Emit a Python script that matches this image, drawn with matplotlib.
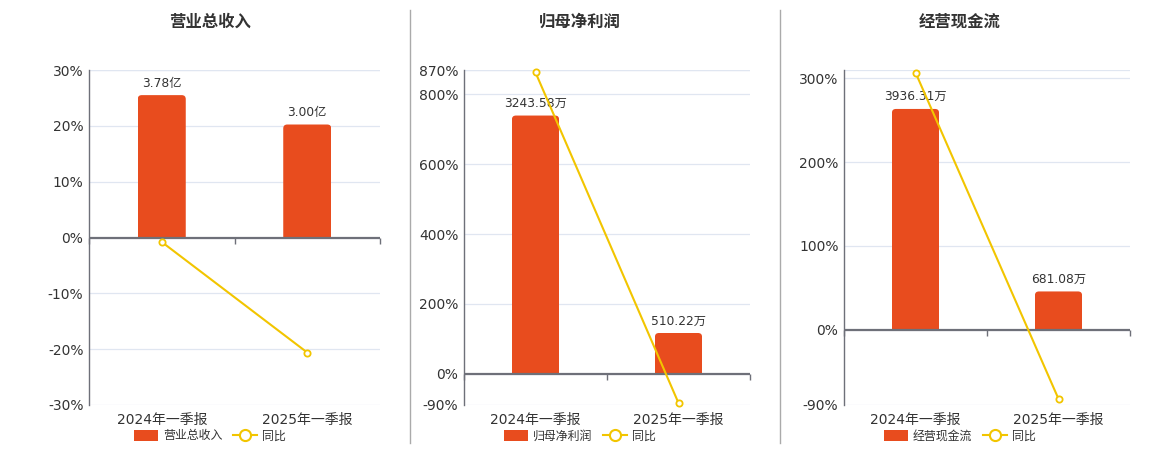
import matplotlib.pyplot as plt
from matplotlib.lines import Line2D
from matplotlib.patches import Patch, FancyBboxPatch, Rectangle
from matplotlib.markers import TICKDOWN

plt.rcParams['font.family'] = ['DejaVu Sans', 'Noto Sans CJK SC']

# ---------------------------------
# Data
# ---------------------------------
periods = ['2024年一季报', '2025年一季报']
titles = ['营业总收入', '归母净利润', '经营现金流']

bar_values = [[3.78, 3.00], [3243.58, 510.22], [3936.31, 681.08]]
bar_labels = [['3.78亿', '3.00亿'], ['3243.58万', '510.22万'], ['3936.31万', '681.08万']]
yoy_values = [[-0.8, -20.6], [863.0, -84.3], [307.0, -82.7]]

pct_ticks = [[-30, -20, -10, 0, 10, 20, 30],
             [-90, 0, 200, 400, 600, 800, 870],
             [-90, 0, 100, 200, 300]]
pct_limits = [(-30, 30), (-90, 870), (-90, 310)]

# ---------------------------------
# Layout (pixels of a 1160x450 canvas)
# ---------------------------------
W, H = 1160, 450
panel_left = [89, 464, 844]
panel_width = [291, 286, 286]
panel_center = [210, 580, 960]
plot_top, plot_bottom = 70, 405
corner_px = 4

BAR_COLOR = '#e84c1e'
LINE_COLOR = '#f2c500'
AXIS_COLOR = '#6e7079'
GRID_COLOR = '#e0e6f1'
TEXT_COLOR = '#333333'

fig = plt.figure(figsize=(W / 100, H / 100), dpi=100)

for i in range(3):
    lo, hi = pct_limits[i]
    rect = [panel_left[i] / W, 1 - plot_bottom / H,
            panel_width[i] / W, (plot_bottom - plot_top) / H]

    # percent axis (visible ticks + grid)
    ax = fig.add_axes(rect)
    ax.set_xlim(-0.5, 1.5)
    ax.set_ylim(lo, hi)
    for t in pct_ticks[i] + [hi]:
        ax.axhline(t, color=GRID_COLOR, lw=0.9, zorder=0)
    ax.set_yticks(pct_ticks[i], [f'{t}%' for t in pct_ticks[i]])
    ax.set_xticks([0, 1], periods)
    ax.tick_params(axis='y', length=0, pad=4, labelsize=10, labelcolor=TEXT_COLOR)
    ax.tick_params(axis='x', length=0, pad=6, labelsize=10, labelcolor=TEXT_COLOR)
    for side in ['top', 'right', 'bottom']:
        ax.spines[side].set_visible(False)
    ax.spines['left'].set_color(AXIS_COLOR)
    ax.spines['left'].set_linewidth(1)

    # bar axis (hidden, zero aligned with percent axis)
    axb = ax.twinx()
    btop = max(bar_values[i]) / 0.85
    bbot = btop * lo / hi
    axb.set_ylim(bbot, btop)
    axb.set_xlim(-0.5, 1.5)
    bars = axb.bar(range(2), bar_values[i], width=0.33, color=BAR_COLOR, zorder=2)

    # round the top corners of each bar
    rx = corner_px * 2.0 / panel_width[i]
    ry = corner_px * (btop - bbot) / (plot_bottom - plot_top)
    for b in bars:
        b.set_visible(False)
        x0, w, h = b.get_x(), b.get_width(), b.get_height()
        rb = FancyBboxPatch((x0, -ry), w, h + ry,
                            boxstyle=f'round,pad=0,rounding_size={rx}',
                            mutation_aspect=ry / rx, facecolor=BAR_COLOR,
                            edgecolor='none', zorder=2)
        axb.add_patch(rb)
        rb.set_clip_path(Rectangle((x0, 0), w, h * 1.1, transform=axb.transData))

    for b, lab in zip(bars, bar_labels[i]):
        axb.annotate(lab, (b.get_x() + b.get_width() / 2, b.get_height()),
                     xytext=(0, 4), textcoords='offset points',
                     ha='center', va='bottom', fontsize=8.8, color=TEXT_COLOR)
    axb.axhline(0, color=AXIS_COLOR, lw=1.6, zorder=3)
    axb.plot([-0.5, 0.5, 1.5], [0, 0, 0], ls='none', marker=TICKDOWN,
             ms=4, mew=1, color=AXIS_COLOR, clip_on=False, zorder=3)
    axb.set_axis_off()

    # yoy line axis
    axl = ax.twinx()
    axl.set_xlim(-0.5, 1.5)
    axl.set_ylim(lo, hi)
    axl.plot(range(2), yoy_values[i], color=LINE_COLOR, lw=1.5,
             marker='o', ms=4.5, mfc='white', mec=LINE_COLOR, mew=1.3,
             clip_on=False, zorder=4)
    axl.set_axis_off()

    # title
    fig.text(panel_center[i] / W, 1 - 22 / H, titles[i], ha='center', va='center',
             fontsize=11.8, fontweight='bold', color=TEXT_COLOR)

    # legend
    handles = [Patch(facecolor=BAR_COLOR, edgecolor='none'),
               Line2D([], [], color=LINE_COLOR, lw=1.5, marker='o', ms=8,
                      mfc='white', mec=LINE_COLOR, mew=1.5)]
    leg = fig.legend(handles, [titles[i], '同比'], loc='center',
                     bbox_to_anchor=(panel_center[i] / W, 1 - 436 / H),
                     ncol=2, frameon=False, fontsize=8.6, handlelength=2.0,
                     handleheight=1.0, handletextpad=0.4, columnspacing=0.9)
    for txt in leg.get_texts():
        txt.set_color(TEXT_COLOR)

# separators between panels
for x in [410, 780]:
    fig.add_artist(Line2D([x / W, x / W], [1 - 10 / H, 1 - 443 / H],
                          color='#aaaaaa', lw=1))

fig.savefig('out.png', dpi=100)
